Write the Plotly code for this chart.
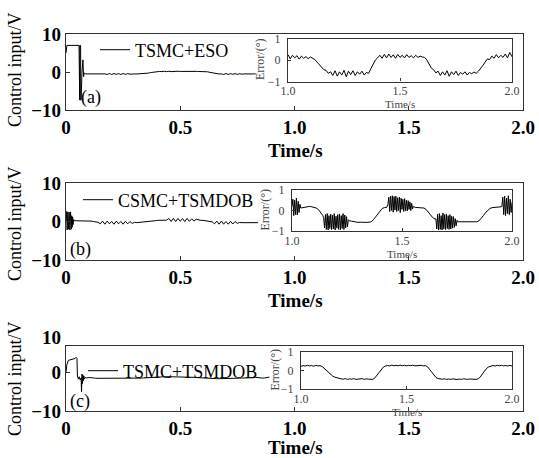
import numpy as np
import plotly.graph_objects as go

W, H = 539, 458
SERIF = "Liberation Serif"

# ---------------- data ----------------
series_names = ["TSMC+ESO", "CSMC+TSMDOB", "TSMC+TSMDOB"]
panel_tags = ["(a)", "(b)", "(c)"]
main_xticks = [0, 0.5, 1.0, 1.5, 2.0]
main_xtext = ["0", "0.5", "1.0", "1.5", "2.0"]
main_yticks = [-10, 0, 10]
main_ytext = ["\u221210", "0", "10"]
inset_xticks = [1.0, 1.5, 2.0]
inset_xtext = ["1.0", "1.5", "2.0"]
inset_yticks = [-1, 0, 1]
inset_ytext = ["\u22121", "0", "1"]

# (a) TSMC+ESO control input (V): start-up transient, then steady part on a 0.01 s grid 0.09..0.83
ta_start = [0.000, 0.004, 0.057, 0.0575, 0.060, 0.0605, 0.064, 0.0645, 0.066, 0.070, 0.074, 0.077, 0.080, 0.085]
ua_start = [5.0, 7.0, 7.0, -7.4, -7.4, 7.0, 7.0, -7.4, -7.4, 0.0, 3.2, -1.2, -0.2, -0.5]
ua_steady = [-0.50, -0.45, -0.50, -0.48, -0.50, -0.52, -0.50, -0.55, -0.50, -0.65,
             -0.40, -0.65, -0.40, -0.62, -0.42, -0.65, -0.40, -0.62, -0.42, -0.58,
             -0.45, -0.50, -0.52, -0.50, -0.48, -0.45, -0.40, -0.30, -0.15, -0.05,
             0.05, 0.10, 0.15, 0.10, 0.20, 0.08, 0.20, 0.10, 0.18, 0.12,
             0.20, 0.15, 0.18, 0.12, 0.20, 0.15, 0.18, 0.15, 0.16, 0.14,
             0.15, 0.12, 0.10, 0.05, -0.10, -0.25, -0.40, -0.50, -0.52, -0.50,
             -0.65, -0.40, -0.65, -0.42, -0.62, -0.42, -0.64, -0.45, -0.58, -0.50,
             -0.55, -0.50, -0.52, -0.50, -0.50]
ta_steady_span = [0.09, 0.83]

# (b) CSMC+TSMDOB control input (V)
tb_start = [0.000, 0.003, 0.005, 0.008, 0.011, 0.014, 0.017, 0.020, 0.023, 0.025, 0.027, 0.029, 0.031, 0.034, 0.037]
ub_start = [0.0, 2.6, -2.2, 2.5, -2.0, 2.4, -2.2, 2.5, -2.0, 1.5, -1.5, 1.2, -0.8, 0.5, 0.2]
ub_steady = [0.20, 0.15, 0.20, 0.15, 0.20, 0.10, 0.15, 0.10, 0.00, -0.10,
             -0.20, -0.60, 0.10, -0.70, 0.10, -0.60, 0.00, -0.70, 0.10, -0.60,
             0.00, -0.70, 0.05, -0.60, 0.00, -0.50, -0.20, -0.30, -0.25, -0.30,
             -0.25, -0.20, -0.10, 0.00, 0.10, 0.20, 0.30, 0.30, 0.35, 0.30,
             0.35, 0.80, 0.00, 0.80, 0.00, 0.80, 0.05, 0.75, 0.00, 0.80,
             0.05, 0.70, 0.10, 0.60, 0.35, 0.30, 0.30, 0.20, 0.10, 0.00,
             -0.10, -0.60, 0.10, -0.70, 0.10, -0.70, 0.00, -0.70, 0.05, -0.65,
             0.00, -0.50, -0.25, -0.30, -0.30, -0.28, -0.30, -0.30, -0.30, -0.30,
             -0.30]
tb_steady_span = [0.04, 0.84]

# (c) TSMC+TSMDOB control input (V)
tc_start = [0.000, 0.004, 0.010, 0.020, 0.030, 0.040, 0.044, 0.048, 0.050, 0.054, 0.058,
            0.062, 0.066, 0.068, 0.070, 0.072, 0.074, 0.076, 0.078, 0.080, 0.084, 0.090]
uc_start = [0.0, 2.0, 3.0, 3.2, 3.3, 3.5, 3.8, 3.5, -1.0, -1.8, -1.2,
            -2.0, -1.5, -5.0, -0.5, -3.0, -0.8, -2.2, -1.0, -1.8, -1.4, -1.5]
uc_steady = [-1.40, -1.55, -1.50, -1.60, -1.60, -1.65, -1.65, -1.65, -1.70, -1.65,
             -1.70, -1.70, -1.65, -1.70, -1.70, -1.68, -1.70, -1.70, -1.68, -1.65,
             -1.65, -1.62, -1.60, -1.55, -1.50, -1.45, -1.40, -1.35, -1.30, -1.28,
             -1.25, -1.22, -1.20, -1.20, -1.18, -1.18, -1.20, -1.18, -1.20, -1.20,
             -1.22, -1.22, -1.25, -1.25, -1.28, -1.30, -1.35, -1.40, -1.45, -1.50,
             -1.55, -1.60, -1.62, -1.65, -1.65, -1.68, -1.70, -1.70, -1.68, -1.70,
             -1.70, -1.68, -1.70, -1.70, -1.68, -1.65, -1.65, -1.62, -1.60, -1.55,
             -1.62, -1.55, -1.45, -1.35, -1.40, -1.60, -1.55, -1.50, -1.40, -1.30]
tc_steady_span = [0.10, 0.89]

# insets: tracking error (deg), 1.0..2.0 s
inset_span = [1.0, 2.0]
ea_err = [0.25, 0.05, 0.22, 0.10, 0.20, 0.04, 0.18, 0.08, 0.16, 0.06,
          0.14, 0.08, 0.02, -0.10, -0.22, -0.30, -0.45, -0.48, -0.62, -0.55,
          -0.72, -0.50, -0.75, -0.55, -0.70, -0.48, -0.78, -0.52, -0.68, -0.50,
          -0.72, -0.55, -0.66, -0.52, -0.70, -0.58, -0.62, -0.40, -0.22, 0.00,
          0.10, 0.22, 0.08, 0.26, 0.10, 0.28, 0.12, 0.24, 0.08, 0.26,
          0.12, 0.22, 0.10, 0.25, 0.12, 0.20, 0.10, 0.22, 0.12, 0.18,
          0.14, 0.12, 0.00, -0.20, -0.38, -0.45, -0.60, -0.52, -0.72, -0.55,
          -0.70, -0.50, -0.76, -0.55, -0.68, -0.52, -0.72, -0.58, -0.66, -0.55,
          -0.70, -0.58, -0.64, -0.56, -0.62, -0.52, -0.40, -0.25, -0.10, 0.05,
          0.02, 0.18, 0.08, 0.25, 0.10, 0.22, 0.12, 0.28, 0.10, 0.35,
          0.15]

ec_err = [0.22, 0.27, 0.24, 0.28, 0.25, 0.27, 0.23, 0.28, 0.25, 0.26,
          0.22, 0.12, 0.00, -0.12, -0.22, -0.30, -0.36, -0.40, -0.43, -0.45,
          -0.47, -0.44, -0.48, -0.45, -0.47, -0.44, -0.48, -0.46, -0.47, -0.44,
          -0.48, -0.45, -0.47, -0.46, -0.48, -0.40, -0.25, -0.08, 0.08, 0.18,
          0.24, 0.27, 0.25, 0.29, 0.26, 0.28, 0.25, 0.29, 0.26, 0.28,
          0.25, 0.28, 0.26, 0.29, 0.25, 0.27, 0.26, 0.28, 0.25, 0.26,
          0.20, 0.05, -0.12, -0.28, -0.38, -0.44, -0.46, -0.47, -0.45, -0.48,
          -0.46, -0.48, -0.45, -0.47, -0.49, -0.46, -0.48, -0.45, -0.47, -0.48,
          -0.46, -0.48, -0.47, -0.48, -0.45, -0.35, -0.18, -0.02, 0.12, 0.20,
          0.25, 0.27, 0.24, 0.28, 0.26, 0.28, 0.25, 0.27, 0.24, 0.28,
          0.24]

# inset (b): chattering and smooth stretches, each sampled evenly over its own time span
eb_chat1 = [0.20, 0.55, -0.25, 0.50, -0.20, 0.60, -0.22, 0.45, -0.10, 0.30]
eb_flat1 = [0.12, 0.14, 0.16, 0.15, 0.20, 0.18, 0.15, 0.12, 0.05, -0.08, -0.25]
eb_chat2 = [-0.35, -0.85, -0.20, -0.92, -0.15, -0.95, -0.25, -0.88, -0.18, -0.93,
            -0.22, -0.90, -0.15, -0.95, -0.28, -0.86, -0.20, -0.92, -0.17, -0.94,
            -0.25, -0.88, -0.15, -0.93, -0.22, -0.85, -0.30, -0.80, -0.45]
eb_flat2 = [-0.50, -0.52, -0.55, -0.56, -0.58, -0.57, -0.58, -0.60, -0.58, -0.57,
            -0.55, -0.45, -0.30, -0.15, 0.00, 0.10, 0.14, 0.15]
eb_chat3 = [0.30, 0.65, -0.05, 0.70, 0.00, 0.72, -0.08, 0.68, 0.02, 0.70,
            -0.05, 0.62, 0.00, 0.65, -0.10, 0.60, 0.05, 0.55, -0.05, 0.58,
            0.00, 0.50, -0.02, 0.48, 0.05, 0.42, 0.00, 0.35, 0.08, 0.20]
eb_flat3 = [0.15, 0.14, 0.16, 0.14, 0.12, 0.05, -0.08, -0.22, -0.35, -0.42]
eb_chat4 = [-0.40, -0.90, -0.18, -0.95, -0.15, -0.92, -0.25, -0.95, -0.12, -0.90,
            -0.20, -0.93, -0.18, -0.88, -0.25, -0.92, -0.20, -0.90, -0.28, -0.86,
            -0.30, -0.82, -0.40, -0.75, -0.48, -0.55]
eb_flat4 = [-0.55, -0.56, -0.57, -0.58, -0.57, -0.58, -0.58, -0.56, -0.55, -0.50,
            -0.40, -0.25, -0.10, 0.02, 0.10, 0.14, 0.16, 0.15, 0.17, 0.18]
eb_chat5 = [0.20, 0.65, -0.20, 0.70, -0.25, 0.60, -0.15, 0.72, -0.20, 0.55, -0.10, 0.40]
eb_spans = [(1.000, 1.036), (1.04, 1.14), (1.144, 1.256), (1.26, 1.43), (1.436, 1.552),
            (1.56, 1.65), (1.654, 1.754), (1.76, 1.95), (1.954, 2.000)]

# ---------------- assemble series ----------------
def join(t_start, u_start, steady, span):
    t = list(t_start) + list(np.linspace(span[0], span[1], len(steady)))
    return t, list(u_start) + list(steady)

ta, ua = join(ta_start, ua_start, ua_steady, ta_steady_span)
tb, ub = join(tb_start, ub_start, ub_steady, tb_steady_span)
tc, uc = join(tc_start, uc_start, uc_steady, tc_steady_span)

ti_a = np.linspace(inset_span[0], inset_span[1], len(ea_err))
ti_c = np.linspace(inset_span[0], inset_span[1], len(ec_err))
eb_parts = [eb_chat1, eb_flat1, eb_chat2, eb_flat2, eb_chat3, eb_flat3, eb_chat4, eb_flat4, eb_chat5]
ti_b, eb_err = [], []
for (s, e), vals in zip(eb_spans, eb_parts):
    ti_b += list(np.linspace(s, e, len(vals)))
    eb_err += list(vals)

# ---------------- figure ----------------
def px(x):
    return x / W

def py(y):
    return 1 - y / H

fig = go.Figure()
mains = [(ta, ua), (tb, ub), (tc, uc)]
insets = [(ti_a, ea_err), (ti_b, eb_err), (ti_c, ec_err)]
legend_ids = ["legend", "legend2", "legend3"]

for i in range(3):
    m = 2 * i + 1
    n = 2 * i + 2
    fig.add_trace(go.Scatter(
        x=mains[i][0], y=mains[i][1], mode="lines", name=series_names[i],
        line=dict(color="black", width=1), legend=legend_ids[i],
        xaxis="x" if m == 1 else f"x{m}", yaxis="y" if m == 1 else f"y{m}",
        hoverinfo="skip"))
    fig.add_trace(go.Scatter(
        x=insets[i][0], y=insets[i][1], mode="lines", showlegend=False,
        line=dict(color="black", width=1),
        xaxis=f"x{n}", yaxis=f"y{n}", hoverinfo="skip"))

frame = dict(showline=True, mirror=True, linecolor="#333", linewidth=1.3,
             ticks="inside", ticklen=4, tickcolor="#333", tickwidth=1,
             showgrid=False, zeroline=False, fixedrange=True, automargin=False,
             title=dict(text=""))

main_y = [(34, 110, [-10, 10]), (183, 260, [-10, 10]), (346, 411, [-10, 6.7])]
inset_box = [(288, 512, 38.5, 81.5), (292, 512, 190, 231), (301, 512, 352, 389)]

layout = dict(template="none", width=W, height=H, autosize=False,
              margin=dict(l=0, r=0, t=0, b=0, pad=0),
              paper_bgcolor="white", plot_bgcolor="white",
              font=dict(family=SERIF, color="black"))

for i in range(3):
    m = 2 * i + 1
    n = 2 * i + 2
    top, bot, yr = main_y[i]
    kx = "xaxis" if m == 1 else f"xaxis{m}"
    ky = "yaxis" if m == 1 else f"yaxis{m}"
    layout[kx] = dict(frame, domain=[px(66), px(523)], range=[0, 2],
                      anchor="y" if m == 1 else f"y{m}",
                      tickvals=main_xticks, ticktext=main_xtext,
                      tickfont=dict(family=SERIF, size=19, color="black", weight="bold"))
    layout[ky] = dict(frame, domain=[py(bot), py(top)], range=yr,
                      anchor="x" if m == 1 else f"x{m}",
                      tickvals=main_yticks, ticktext=main_ytext,
                      tickfont=dict(family=SERIF, size=19, color="black", weight="bold"))
    x0, x1, y0, y1 = inset_box[i]
    layout[f"xaxis{n}"] = dict(frame, domain=[px(x0), px(x1)], range=inset_span,
                               anchor=f"y{n}", tickvals=inset_xticks, ticktext=inset_xtext,
                               ticklen=3, ticklabelstandoff=-2,
                               tickfont=dict(family=SERIF, size=12, color="#444"))
    layout[f"yaxis{n}"] = dict(frame, domain=[py(y1), py(y0)], range=[-1, 1],
                               anchor=f"x{n}", tickvals=inset_yticks, ticktext=inset_ytext,
                               ticklen=3, ticklabelstandoff=4,
                               tickfont=dict(family=SERIF, size=12, color="#444"))

legend_pos = [(95, 50), (78, 200), (83, 371)]
for i, lid in enumerate(legend_ids):
    lx, ly = legend_pos[i]
    layout[lid] = dict(x=px(lx), y=py(ly), xanchor="left", yanchor="middle",
                       bgcolor="rgba(0,0,0,0)", borderwidth=0,
                       font=dict(family=SERIF, size=18, color="black"))

def note(text, x, y, size, color="black", angle=0, xanchor="center"):
    return dict(text=text, x=px(x), y=py(y), xref="paper", yref="paper",
                xanchor=xanchor, yanchor="middle", textangle=angle, showarrow=False,
                font=dict(family=SERIF, size=size, color=color))

annotations = []
ylabel_y = [70, 224, 379]
time_y = [150, 300, 447]
tag_pos = [(91, 97), (80, 249), (80, 401)]
err_x = [260, 264, 274]
inset_time_y = [104, 254, 411.5]
for i in range(3):
    annotations.append(note("Control input/V", 15, ylabel_y[i], 18, angle=-90))
    annotations.append(note("<b>Time/s</b>", 295, time_y[i], 19))
    annotations.append(note(panel_tags[i], tag_pos[i][0], tag_pos[i][1], 18))
    x0, x1, y0, y1 = inset_box[i]
    annotations.append(note("Error/(\u00b0)", err_x[i], (y0 + y1) / 2, 12, color="#444", angle=-90))
    annotations.append(note("Time/s", (x0 + x1) / 2, inset_time_y[i], 11, color="#444"))
# panel (c): the "10" tick sits above the clipped frame
annotations.append(note("<b>10</b>", 63, 337, 19, xanchor="right"))
layout["annotations"] = annotations

fig.update_layout(**layout)
fig.write_html("out.html", config={"displayModeBar": False},
               post_script="document.body.style.margin='0px';")
